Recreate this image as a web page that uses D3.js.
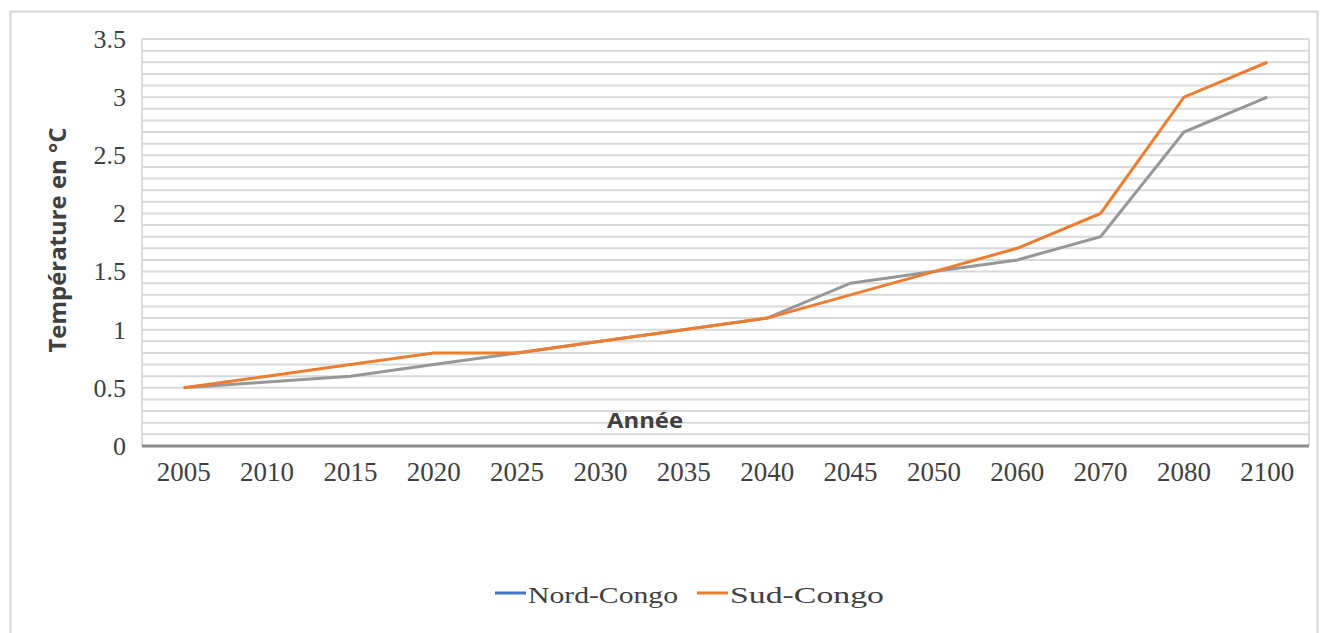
<!DOCTYPE html>
<html><head><meta charset="utf-8">
<script src="https://cdn.jsdelivr.net/npm/d3@7"></script>
<style>body{margin:0;background:#fff;} svg{display:block;}</style>
</head><body>
<svg id="c" width="1327" height="633"></svg>
<script>
const years = ["2005","2010","2015","2020","2025","2030","2035","2040","2045","2050","2060","2070","2080","2100"];
const nordCongo = [0.5,0.55,0.6,0.7,0.8,0.9,1.0,1.1,1.4,1.5,1.6,1.8,2.7,3.0];
const sudCongo  = [0.5,0.6,0.7,0.8,0.8,0.9,1.0,1.1,1.3,1.5,1.7,2.0,3.0,3.3];
const yTicks = [0,0.5,1,1.5,2,2.5,3,3.5];
const yTickLabels = ["0","0.5","1","1.5","2","2.5","3","3.5"];
const seriesNames = ["Nord-Congo","Sud-Congo"];

const svg = d3.select("#c");
const L=142, R=1309, T=39, B=446;
const x = d3.scaleBand().domain(years).range([L,R]);
const y = d3.scaleLinear().domain([0,3.5]).range([B,T]);

// outer frame
svg.append("rect").attr("x",10.5).attr("y",11.5).attr("width",1307).attr("height",640)
  .attr("fill","none").attr("stroke","#d6d6d6").attr("stroke-width",2);

// minor gridlines every 0.1
const grid = d3.range(1,36).map(i=>i/10);
svg.append("g").selectAll("line").data(grid).join("line")
  .attr("x1",L).attr("x2",R).attr("y1",d=>y(d)).attr("y2",d=>y(d))
  .attr("stroke","#d9d9d9").attr("stroke-width",2);
svg.append("line").attr("x1",L).attr("x2",L).attr("y1",T).attr("y2",B).attr("stroke","#d0d0d0").attr("stroke-width",1.5);
svg.append("line").attr("x1",R).attr("x2",R).attr("y1",T).attr("y2",B).attr("stroke","#d0d0d0").attr("stroke-width",1.5);

// baseline axis
svg.append("line").attr("x1",L).attr("x2",R).attr("y1",B).attr("y2",B).attr("stroke","#8a8a8a").attr("stroke-width",3);

const serif = "'Liberation Serif','Times New Roman',serif";
const sans = "'Open Sans','Liberation Sans',sans-serif";

// y axis labels
const yAxis = d3.axisLeft(y).tickValues(yTicks).tickFormat((d,i)=>yTickLabels[i]).tickSize(0).tickPadding(0);
const gy = svg.append("g").attr("transform",`translate(${L-16},0)`).call(yAxis);
gy.select(".domain").remove();
gy.selectAll("text").attr("font-family",serif).attr("font-size",26).attr("fill","#404040");

// x axis labels
const xAxis = d3.axisBottom(x).tickSize(0).tickPadding(0);
const gx = svg.append("g").attr("transform",`translate(0,${B+16})`).call(xAxis);
gx.select(".domain").remove();
gx.selectAll("text").attr("font-family",serif).attr("font-size",27).attr("fill","#404040");

// axis titles
svg.append("text").attr("x",645).attr("y",428).attr("text-anchor","middle")
  .attr("font-family",sans).attr("font-weight","bold").attr("font-size",22).attr("fill","#404040")
  .attr("textLength",76).attr("lengthAdjust","spacingAndGlyphs").text("Année");
svg.append("text").attr("transform","translate(66,240) rotate(-90)").attr("text-anchor","middle")
  .attr("font-family",sans).attr("font-weight","bold").attr("font-size",23).attr("fill","#404040")
  .attr("textLength",225).attr("lengthAdjust","spacingAndGlyphs").text("Température en °C");

// lines
const line = d3.line().x((d,i)=>x(years[i])+x.bandwidth()/2).y(d=>y(d));
svg.append("path").datum(nordCongo).attr("d",line).attr("fill","none").attr("stroke","#979797").attr("stroke-width",3);
svg.append("path").datum(sudCongo).attr("d",line).attr("fill","none").attr("stroke","#ED7D31").attr("stroke-width",3);

// legend
const legColors = ["#4472C4","#ED7D31"];
const legX = [495,697];
const legLen = [150,154];
const lg = svg.append("g");
seriesNames.forEach((n,i)=>{
  lg.append("line").attr("x1",legX[i]).attr("x2",legX[i]+31).attr("y1",593).attr("y2",593).attr("stroke",legColors[i]).attr("stroke-width",3);
  lg.append("text").attr("x",legX[i]+33).attr("y",603).attr("font-family",serif).attr("font-size",23).attr("fill","#404040")
    .attr("textLength",legLen[i]).attr("lengthAdjust","spacingAndGlyphs").text(n);
});
</script>
</body></html>
